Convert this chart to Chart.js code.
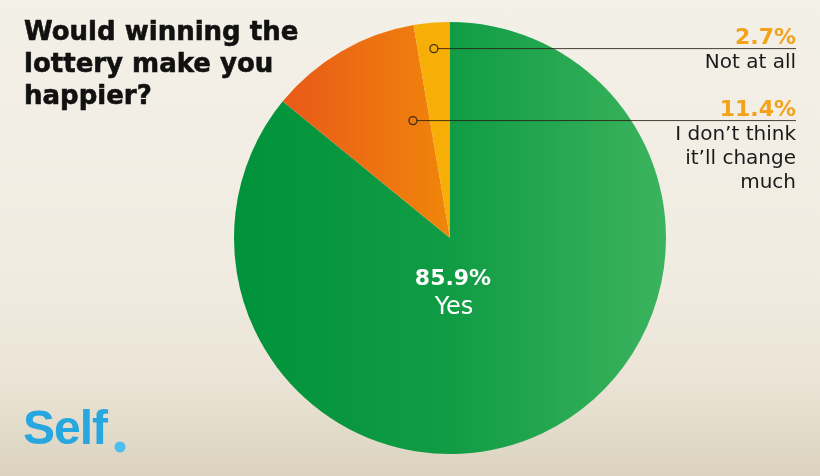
<!DOCTYPE html>
<html><head><meta charset="utf-8">
<script src="https://cdn.jsdelivr.net/npm/chart.js@4/dist/chart.umd.min.js"></script>
<style>
html,body{margin:0;padding:0;width:820px;height:476px;overflow:hidden;}
#wrap{position:relative;width:820px;height:476px;background:linear-gradient(180deg,#f3f0e7 0%,#f1ece2 55%,#ebe4d6 80%,#dbd3bf 100%);}
canvas{position:absolute;left:0;top:0;}
</style></head>
<body><div id="wrap"><canvas id="c" width="820" height="476"></canvas></div>
<script>
const categories = ["Yes", "I don\u2019t think it\u2019ll change much", "Not at all"];
const labelLines = [["Yes"], ["I don\u2019t think", "it\u2019ll change", "much"], ["Not at all"]];
const values = [85.9, 11.4, 2.7];
const pctLabels = ["85.9%", "11.4%", "2.7%"];
const title = ["Would winning the", "lottery make you", "happier?"];

const FONT = '"DejaVu Sans", "Noto Sans", sans-serif';

function sliceFill(ctx) {
  const chart = ctx.chart;
  const a = chart.chartArea;
  if (!a) return '#1a9e48';
  const c = chart.ctx;
  const i = ctx.dataIndex;
  if (i === 0) {
    const g = c.createLinearGradient(a.left, 0, a.right, 0);
    g.addColorStop(0, '#00923a'); g.addColorStop(0.5, '#109c44'); g.addColorStop(1, '#3cb35e');
    return g;
  } else if (i === 1) {
    const g = c.createLinearGradient(a.left + 40, 0, a.left + 216, 0);
    g.addColorStop(0, '#e9561a'); g.addColorStop(1, '#f0860a');
    return g;
  }
  return '#f7ae06';
}

const calloutPlugin = {
  id: 'callouts',
  afterDatasetsDraw(chart) {
    const c = chart.ctx;
    const arcs = chart.getDatasetMeta(0).data;
    const specs = [[2, 0.5, 0.88], [1, 0.81, 0.57]];
    const rightX = 796;
    specs.forEach(([i, f, rf]) => {
      const arc = arcs[i];
      const ang = arc.startAngle + f * (arc.endAngle - arc.startAngle);
      const r = arc.outerRadius * rf;
      const px = arc.x + Math.cos(ang) * r;
      const py = arc.y + Math.sin(ang) * r;
      c.save();
      c.strokeStyle = 'rgba(40,30,20,0.85)';
      c.lineWidth = 1;
      c.beginPath(); c.moveTo(px + 4, py); c.lineTo(rightX, py); c.stroke();
      c.lineWidth = 1.3;
      c.beginPath(); c.arc(px, py, 4, 0, Math.PI * 2); c.stroke();
      c.textAlign = 'right'; c.textBaseline = 'alphabetic';
      c.fillStyle = '#f3a21a';
      c.font = 'bold 22px ' + FONT;
      c.fillText(pctLabels[i], rightX, py - 5);
      c.fillStyle = '#1a1a1a';
      c.font = '20px ' + FONT;
      labelLines[i].forEach((t, k) => c.fillText(t, rightX, py + 19 + k * 24));
      c.restore();
    });
    const a0 = arcs[0];
    c.save();
    c.textAlign = 'center'; c.fillStyle = '#ffffff';
    c.font = 'bold 22px ' + FONT;
    c.fillText(pctLabels[0], a0.x + 3, 285);
    c.font = '24px ' + FONT;
    c.fillText(labelLines[0][0], a0.x + 4, 314);
    c.restore();
    c.save();
    c.textAlign = 'left'; c.fillStyle = '#111111'; c.strokeStyle = '#111111'; c.lineWidth = 0.6;
    c.font = 'bold 26px ' + FONT;
    title.forEach((t, k) => { c.fillText(t, 24, 40 + k * 32); c.strokeText(t, 24, 40 + k * 32); });
    c.fillStyle = '#27a6df';
    c.font = 'bold 48px "Liberation Sans", Arial, sans-serif';
    if ('letterSpacing' in c) c.letterSpacing = '-1px';
    c.fillText('Self', 23, 444);
    c.fillStyle = '#4dbdf0';
    c.beginPath(); c.arc(120, 447, 5.5, 0, Math.PI * 2); c.fill();
    c.restore();
  }
};

new Chart(document.getElementById('c'), {
  type: 'pie',
  data: {
    labels: categories,
    datasets: [{ data: values, backgroundColor: sliceFill, borderWidth: 0, hoverOffset: 0 }]
  },
  options: {
    responsive: false,
    animation: false,
    rotation: 0,
    layout: { padding: { left: 234, right: 154, top: 22, bottom: 22 } },
    plugins: { legend: { display: false }, tooltip: { enabled: false } },
    events: []
  },
  plugins: [calloutPlugin]
});
</script></body></html>
